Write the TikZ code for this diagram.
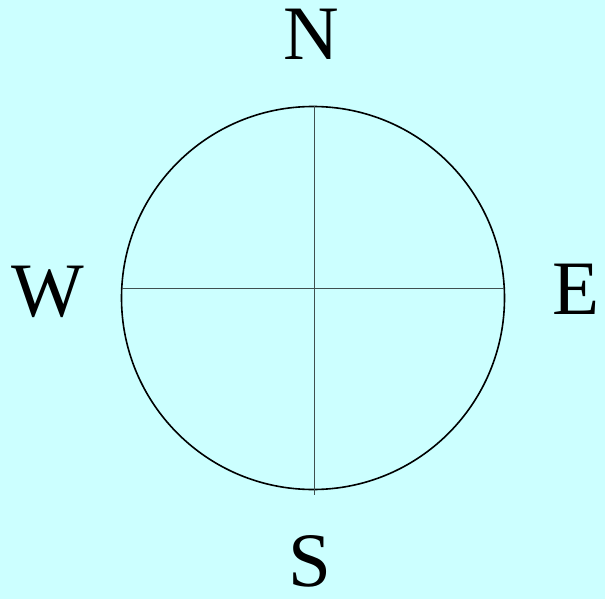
\documentclass[tikz,border=0pt]{standalone}
\usepackage{fontspec}
\setmainfont{Liberation Serif}
\definecolor{bgcyan}{HTML}{CCFFFF}
\definecolor{axisgray}{HTML}{3F4F4F}
\begin{document}
\begin{tikzpicture}[x=1pt,y=-1pt,
  dirlabel/.style={anchor=base,inner sep=0pt,text depth=0pt,font=\fontsize{77}{80}\selectfont},
  axis/.style={draw=axisgray,line width=0.8pt},
  rim/.style={draw=black,line width=1.6pt,circle,minimum size=383pt,inner sep=0pt}]
\fill[bgcyan] (0,0) rectangle (605,599);
\useasboundingbox (0,0) rectangle (605,599);
\node[rim] (c) at (313,298) {};
\coordinate (vt) at (314.5,106);
\coordinate (vb) at (314.5,495);
\coordinate (hl) at (122,288.5);
\coordinate (hr) at (503,288.5);
\draw[axis] (vt) -- (vb);
\draw[axis] (hl) -- (hr);
\node[dirlabel] (n) at (311.5,60) {N};
\node[dirlabel] (s) at (309.5,586) {S};
\node[dirlabel] (w) at (47.5,316) {W};
\node[dirlabel] (e) at (576,314) {E};
\end{tikzpicture}
\end{document}
